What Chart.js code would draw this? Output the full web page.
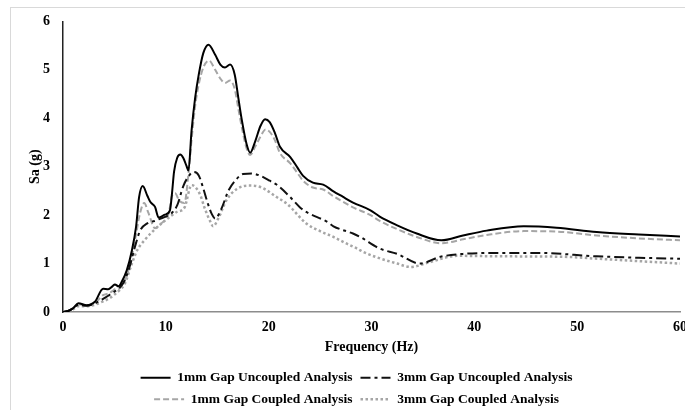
<!DOCTYPE html>
<html>
<head>
<meta charset="utf-8">
<script src="https://cdn.jsdelivr.net/npm/chart.js@4/dist/chart.umd.min.js"></script>
<style>
  html, body { margin: 0; padding: 0; background: #fff; }
  #wrap { width: 685px; height: 410px; position: relative; }
</style>
</head>
<body>
<div id="wrap"><canvas id="saChart"></canvas></div>
<script>
// 1mm gap, uncoupled (solid black)
const freq1mmUnc = [0, 0.5, 1, 1.5, 2.3, 3.1, 3.9, 4.4, 4.8, 5.05, 5.4, 5.7, 6.2, 6.7, 7.1, 7.4, 7.75, 8.2, 8.5, 8.95,
  9.3, 9.9, 10.4, 10.6, 10.8, 11.1, 11.4, 11.7, 12.0, 12.2, 12.5, 12.85, 13.2, 13.65, 14.15, 14.8, 15.3, 15.75, 16.25, 16.7,
  17.05, 17.4, 17.85, 18.2, 18.7, 19.2, 19.65, 20.1, 20.6, 21.1, 22.1, 22.8, 23.35, 24.3, 25.3, 26.3, 27.2, 28.2, 29.9, 30.8,
  32.5, 34.4, 36.8, 38.9, 41.2, 44.8, 48, 51.9, 56, 60];
const sa1mmUnc = [0, 0.02, 0.08, 0.18, 0.14, 0.21, 0.48, 0.47, 0.53, 0.57, 0.53, 0.62, 0.86, 1.27, 1.75, 2.37, 2.6, 2.4, 2.27, 2.17,
  1.95, 2.01, 2.1, 2.45, 2.9, 3.18, 3.25, 3.18, 3.02, 2.92, 3.74, 4.42, 4.9, 5.35, 5.52, 5.31, 5.11, 5.05, 5.11, 4.9,
  4.42, 3.95, 3.47, 3.29, 3.53, 3.84, 3.98, 3.92, 3.7, 3.41, 3.2, 2.98, 2.81, 2.67, 2.63, 2.49, 2.38, 2.26, 2.1, 1.97,
  1.79, 1.62, 1.48, 1.58, 1.68, 1.77, 1.74, 1.65, 1.6, 1.56];

// 1mm gap, coupled (grey dashed)
const freq1mmCpl = [0, 0.5, 1, 1.5, 2.3, 3.1, 3.9, 4.4, 4.8, 5.05, 5.4, 5.7, 6.2, 6.7, 7.1, 7.5, 7.9, 8.3, 8.95, 9.5,
  10, 10.3, 10.6, 10.9, 11.3, 11.8, 12.2, 12.5, 12.85, 13.2, 13.65, 14.2, 14.8, 15.3, 15.75, 16.25, 16.7, 17.05, 17.4, 17.85,
  18.2, 18.7, 19.2, 19.7, 20.1, 20.6, 21.1, 22.1, 22.8, 23.35, 24.3, 25.3, 26.3, 27.2, 28.2, 29.9, 30.8, 32.5, 34.4, 36.8,
  38.9, 41.2, 44.8, 48, 51.9, 56, 60];
const sa1mmCpl = [0, 0.02, 0.08, 0.16, 0.13, 0.18, 0.35, 0.38, 0.43, 0.47, 0.47, 0.55, 0.75, 1.15, 1.6, 2.05, 2.25, 2.05, 1.73, 1.82,
  1.92, 2.05, 2.4, 2.45, 2.3, 2.25, 2.85, 3.55, 4.25, 4.7, 5.05, 5.19, 5.0, 4.82, 4.73, 4.78, 4.6, 4.2, 3.8, 3.38,
  3.24, 3.42, 3.62, 3.77, 3.72, 3.55, 3.28, 3.07, 2.87, 2.71, 2.57, 2.53, 2.39, 2.28, 2.16, 2.0, 1.88, 1.71, 1.55, 1.42,
  1.5, 1.59, 1.67, 1.66, 1.58, 1.52, 1.48];

// 3mm gap, uncoupled (black dash-dot)
const freq3mmUnc = [0, 0.5, 1, 1.5, 2.3, 3.1, 3.9, 4.5, 5, 5.5, 6, 6.5, 7, 7.5, 8.2, 8.9, 9.5, 10.1, 10.6, 11.1,
  11.7, 12.2, 12.7, 13.2, 13.6, 14.1, 14.45, 14.8, 15.4, 16.1, 16.9, 17.5, 18.35, 19.2, 20.1, 20.9, 22.1, 23.05, 23.7, 25.7,
  26.3, 28.2, 28.9, 30.8, 32.5, 34.7, 36.7, 38.9, 42.2, 46.1, 51.9, 56, 60];
const sa3mmUnc = [0, 0.02, 0.08, 0.15, 0.13, 0.18, 0.27, 0.35, 0.42, 0.5, 0.65, 0.95, 1.35, 1.68, 1.83, 1.88, 1.93, 1.98, 2.05, 2.2,
  2.6, 2.8, 2.89, 2.82, 2.58, 2.23, 2.03, 1.93, 2.13, 2.51, 2.75, 2.85, 2.86, 2.81, 2.71, 2.61, 2.37, 2.16, 2.06, 1.86,
  1.77, 1.62, 1.55, 1.31, 1.2, 1.0, 1.14, 1.2, 1.22, 1.22, 1.15, 1.12, 1.1];

// 3mm gap, coupled (grey dotted)
const freq3mmCpl = [0, 0.5, 1, 1.5, 2.3, 3.1, 3.9, 4.5, 5, 5.5, 6, 6.7, 7.2, 8, 9, 10, 11.1, 11.8, 12.5, 13.3,
  13.8, 14.3, 14.6, 15.1, 15.9, 16.9, 18, 19.2, 20.8, 21.8, 23.7, 25, 26.3, 27.5, 28.6, 29.2, 30.5, 32.5, 33.8, 35.7,
  38.3, 42.2, 48.7, 52, 56, 60];
const sa3mmCpl = [0, 0.02, 0.06, 0.12, 0.12, 0.15, 0.22, 0.28, 0.36, 0.45, 0.58, 1.0, 1.27, 1.5, 1.72, 1.9, 2.07, 2.15, 2.62, 2.44,
  2.13, 1.88, 1.77, 1.93, 2.31, 2.54, 2.61, 2.58, 2.37, 2.23, 1.82, 1.67, 1.55, 1.42, 1.31, 1.24, 1.13, 1.0, 0.93, 1.03,
  1.16, 1.15, 1.14, 1.1, 1.05, 1.0];

const xTicks = [0, 10, 20, 30, 40, 50, 60];
const yTicks = [0, 1, 2, 3, 4, 5, 6];

const toPoints = (xs, ys) => xs.map((x, i) => ({ x: x, y: ys[i] }));

const serif = 'Liberation Serif';
const grey = '#a6a6a6';
const labelFont = { family: serif, size: 14, weight: 'bold' };

// marco gris claro alrededor del gráfico
const frameBorder = {
  id: 'frameBorder',
  beforeDraw(chart) {
    const c = chart.ctx;
    c.save();
    c.strokeStyle = '#d9d9d9';
    c.lineWidth = 1;
    c.strokeRect(10.5, 7.5, chart.width, chart.height);
    c.restore();
  }
};

// la leyenda va un poco a la izquierda del centro del área de trazado
const legendShift = {
  id: 'legendShift',
  afterLayout(chart) {
    chart.legend.left -= 15;
    chart.legend.right -= 15;
  }
};

const ctx = document.getElementById('saChart').getContext('2d');

new Chart(ctx, {
  type: 'line',
  data: {
    datasets: [
      {
        label: '1mm Gap Uncoupled Analysis',
        data: toPoints(freq1mmUnc, sa1mmUnc),
        borderColor: '#000',
        borderWidth: 2
      },
      {
        label: '3mm Gap Uncoupled Analysis',
        data: toPoints(freq3mmUnc, sa3mmUnc),
        borderColor: '#111',
        borderWidth: 2,
        borderDash: [10, 4, 3, 4]
      },
      {
        label: '1mm Gap Coupled Analysis',
        data: toPoints(freq1mmCpl, sa1mmCpl),
        borderColor: grey,
        borderWidth: 2,
        borderDash: [6, 3]
      },
      {
        label: '3mm Gap Coupled Analysis',
        data: toPoints(freq3mmCpl, sa3mmCpl),
        borderColor: grey,
        borderWidth: 2.5,
        borderDash: [2.5, 2.5]
      }
    ]
  },
  options: {
    responsive: true,
    maintainAspectRatio: false,
    animation: false,
    elements: {
      point: { radius: 0, hoverRadius: 0 },
      line: { cubicInterpolationMode: 'monotone', fill: false, backgroundColor: 'transparent' }
    },
    layout: { padding: { left: 18, right: 5, top: 20, bottom: 0 } },
    plugins: {
      legend: {
        position: 'bottom',
        fullSize: false,
        maxHeight: 47,
        labels: {
          usePointStyle: true,
          pointStyle: 'line',
          pointStyleWidth: 30,
          padding: 8,
          color: '#000',
          font: { family: serif, size: 13.5, weight: 'bold' },
          // muestra de línea con el mismo trazo que la serie
          generateLabels: (chart) => Chart.defaults.plugins.legend.labels.generateLabels(chart).map((item) => {
            const ds = chart.data.datasets[item.datasetIndex];
            item.lineDash = ds.borderDash || [];
            item.lineWidth = ds.borderWidth;
            item.strokeStyle = ds.borderColor;
            return item;
          })
        }
      },
      tooltip: { enabled: false }
    },
    scales: {
      x: {
        type: 'linear',
        min: 0,
        max: 60,
        afterBuildTicks: (scale) => { scale.ticks = xTicks.map(v => ({ value: v })); },
        afterFit: (scale) => { scale.paddingRight = 0; scale.height = 51; },
        grid: { display: false, drawTicks: false },
        border: { color: '#8c8c8c', width: 1.5 },
        ticks: { padding: 7, color: '#000', font: labelFont },
        title: {
          display: true,
          text: 'Frequency (Hz)',
          color: '#000',
          padding: { top: 0, bottom: 7.5 },
          font: labelFont
        }
      },
      y: {
        min: 0,
        max: 6,
        afterBuildTicks: (scale) => { scale.ticks = yTicks.map(v => ({ value: v })); },
        afterFit: (scale) => { scale.width = 45; },
        grid: { display: false, drawTicks: false },
        border: { color: '#222', width: 1.5 },
        ticks: { padding: 13, color: '#000', font: labelFont },
        title: {
          display: true,
          text: 'Sa (g)',
          color: '#000',
          padding: { top: 8.5, bottom: 0 },
          font: labelFont
        }
      }
    }
  },
  plugins: [frameBorder, legendShift]
});
</script>
</body>
</html>
